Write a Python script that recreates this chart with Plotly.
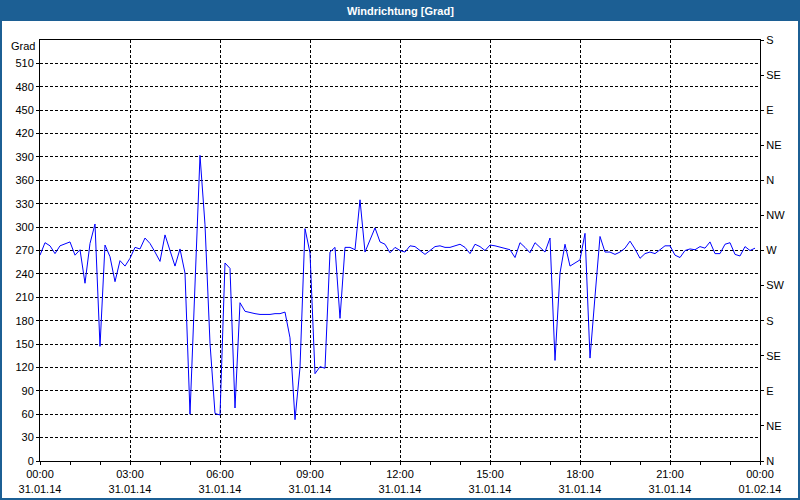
import pandas as pd
import plotly.graph_objects as go

# ---- data ----
start_time = "2014-01-31 00:00"
interval = "10min"
wind_dir = [
    264, 280, 276, 266, 276, 278, 281, 264, 271, 228,
    279, 304, 147, 277, 262, 230, 257, 250, 260, 274,
    272, 286, 279, 268, 256, 290, 271, 250, 272, 241,
    60, 216, 392, 303, 151, 61, 59, 254, 247, 68,
    203, 192, 190, 189, 188, 188, 188, 189, 189, 191,
    158, 53, 120, 298, 267, 112, 121, 119, 268, 274,
    183, 274, 274, 271, 335, 268, 283, 299, 281, 278,
    267, 274, 270, 268, 276, 275, 270, 265, 270, 275,
    276, 274, 274, 276, 278, 274, 266, 278, 275, 270,
    277, 276, 274, 273, 271, 261, 280, 274, 267, 280,
    274, 268, 286, 129, 241, 278, 250, 254, 258, 292,
    132, 211, 288, 268, 268, 265, 268, 273, 282, 272,
    260, 266, 268, 266, 271, 276, 276, 264, 261, 270,
    272, 271, 275, 273, 281, 266, 266, 278, 280, 265,
    263, 275, 270, 273,
]
times = pd.date_range(start_time, periods=len(wind_dir), freq=interval)

x_tick_vals = ["2014-01-31 00:00", "2014-01-31 03:00", "2014-01-31 06:00",
               "2014-01-31 09:00", "2014-01-31 12:00", "2014-01-31 15:00",
               "2014-01-31 18:00", "2014-01-31 21:00", "2014-02-01 00:00"]
x_tick_times = ["00:00", "03:00", "06:00", "09:00", "12:00", "15:00",
                "18:00", "21:00", "00:00"]
x_tick_dates = ["31.01.14"] * 8 + ["01.02.14"]

y_tick_vals = list(range(0, 540, 30))
compass_vals = list(range(0, 541, 45))
compass_text = ["N", "NE", "E", "SE", "S", "SW", "W", "NW",
                "N", "NE", "E", "SE", "S"]

title_text = "Windrichtung [Grad]"
unit_text = "Grad"

# ---- layout helpers (pixel -> paper) ----
L, R, T, B = 40, 760, 40, 461
W_, H_ = 800, 500


def px_x(p):
    return (p - L) / (R - L)


def px_y(p):
    return (B - p) / (B - T)


FONT = "Liberation Sans, Arial, sans-serif"
BLUE_FRAME = "#1c5f94"
DASH = "3px,2px"

fig = go.Figure()
fig.add_trace(go.Scatter(x=times, y=wind_dir, mode="lines",
                         line=dict(color="#0000ff", width=1),
                         hoverinfo="x+y", showlegend=False))
# invisible trace for the right axis
fig.add_trace(go.Scatter(x=[times[0]], y=[0], yaxis="y2", mode="markers",
                         marker=dict(opacity=0), showlegend=False,
                         hoverinfo="skip"))

fig.update_layout(
    width=W_, height=H_, autosize=False,
    margin=dict(l=L, r=W_ - R, t=T, b=H_ - B, pad=0, autoexpand=False),
    paper_bgcolor="white", plot_bgcolor="white",
    font=dict(family=FONT, size=11, color="black"),
    xaxis=dict(
        type="date",
        range=["2014-01-31 00:00", "2014-02-01 00:00"],
        tickvals=x_tick_vals,
        ticktext=[f"{t}<br>{d}" for t, d in zip(x_tick_times, x_tick_dates)],
        ticks="outside", ticklen=3, tickcolor="black", tickwidth=1,
        minor=dict(dtick=3600000, ticks="outside", ticklen=3,
                   tickcolor="black", showgrid=False),
        showgrid=True, gridcolor="black", griddash=DASH, gridwidth=1,
        showline=True, linecolor="black", linewidth=1, mirror=True,
        zeroline=False, fixedrange=True, automargin=False,
    ),
    yaxis=dict(
        range=[0, 540],
        tickvals=y_tick_vals,
        ticks="outside", ticklen=3, tickcolor="black",
        showgrid=True, gridcolor="black", griddash=DASH, gridwidth=1,
        showline=True, linecolor="black", linewidth=1,
        zeroline=False, fixedrange=True, automargin=False,
    ),
    yaxis2=dict(
        range=[0, 540], overlaying="y", side="right",
        tickvals=compass_vals, ticktext=compass_text,
        ticks="outside", ticklen=3, tickcolor="black",
        showgrid=False, showline=True, linecolor="black", linewidth=1,
        zeroline=False, fixedrange=True, automargin=False,
    ),
    shapes=[
        dict(type="rect", xref="paper", yref="paper",
             x0=px_x(0), x1=px_x(800), y0=px_y(21), y1=px_y(0),
             fillcolor=BLUE_FRAME, line=dict(width=0), layer="below"),
        dict(type="rect", xref="paper", yref="paper",
             x0=px_x(1), x1=px_x(799), y0=px_y(499), y1=px_y(1),
             fillcolor="rgba(0,0,0,0)", line=dict(color=BLUE_FRAME, width=2),
             layer="above"),
    ],
    annotations=[
        dict(text=f"<b>{title_text}</b>", xref="paper", yref="paper",
             x=px_x(400), y=px_y(11), xanchor="center", yanchor="middle",
             showarrow=False, font=dict(family=FONT, size=11, color="white")),
        dict(text=unit_text, xref="paper", yref="paper",
             x=px_x(37), y=px_y(46), xanchor="right", yanchor="middle",
             showarrow=False, font=dict(family=FONT, size=11, color="black")),
    ],
)

fig.write_html(
    "out.html",
    config={"displayModeBar": False},
    post_script="document.body.style.margin='0px';",
)
